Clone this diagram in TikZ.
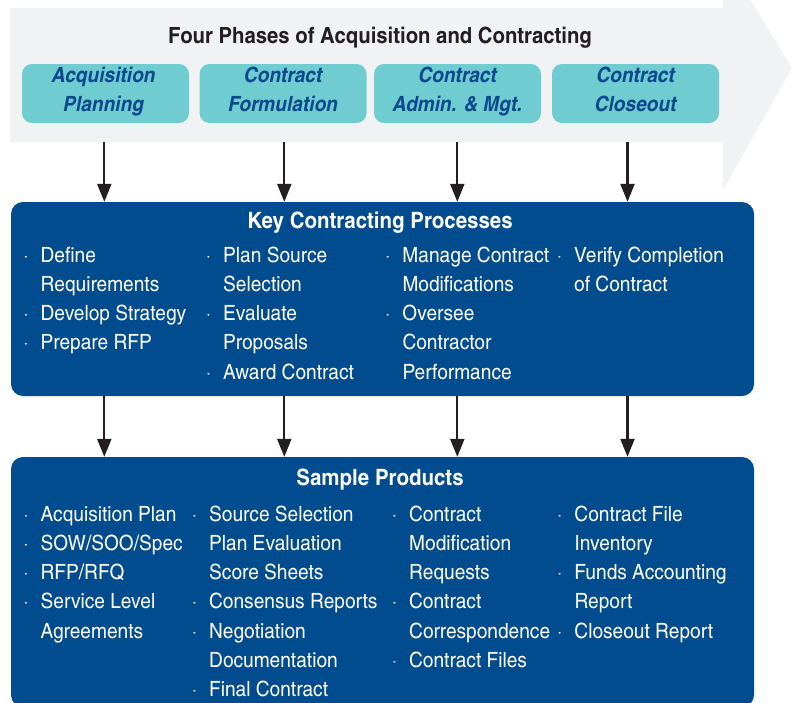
\documentclass[tikz,border=0pt]{standalone}
\usepackage{fontspec}
\setmainfont{texgyreheroscn}[Extension=.otf, UprightFont=*-regular, BoldFont=*-bold, ItalicFont=*-italic, BoldItalicFont=*-bolditalic, FakeStretch=1.11]
\usetikzlibrary{arrows.meta}

\definecolor{bandgray}{RGB}{241,242,244}
\definecolor{phaseteal}{RGB}{111,204,209}
\definecolor{phasetext}{RGB}{12,72,140}
\definecolor{procblue}{RGB}{1,76,142}
\definecolor{arrowink}{RGB}{35,31,32}

% bullet hung to the left of an item's first line
\newcommand\bl{\llap{·\hspace{12pt}}}

\tikzset{
  phasebox/.style={fill=phaseteal, rounded corners=10pt, minimum width=167pt, minimum height=59pt, inner sep=0pt},
  phaseline/.style={font=\fontsize{21}{25}\selectfont\bfseries\itshape, text=phasetext, inner sep=0pt, anchor=base},
  bluebox/.style={fill=procblue, rounded corners=12pt, inner sep=0pt},
  boxtitle/.style={font=\fontsize{22.5}{27}\selectfont\bfseries, text=white, inner sep=0pt, anchor=base},
  itemline/.style={font=\fontsize{21}{25}\selectfont, text=white, inner sep=0pt, anchor=base west},
  flow/.style={draw=arrowink, line width=2.3pt, -{Triangle[width=14pt,length=18pt]}},
}

% one column of list lines, baselines 29.3pt apart
\newcommand\collines[4]{%
  \foreach \t [count=\i] in {#4}
    \node[itemline] (#1-\i) at (#2,{#3+(\i-1)*29.3}) {\t};}

\begin{document}
\begin{tikzpicture}[x=1pt,y=-1pt]
\useasboundingbox (0,0) rectangle (791,702);
\clip (0,0) rectangle (791,702);

% the wide band arrow behind the four phases
\fill[bandgray] (10,8) -- (723,8) -- (723,-45) -- (792,68) -- (723,190) -- (723,142) -- (10,142) -- cycle;

\node[font=\fontsize{22.3}{27}\selectfont\bfseries, text=arrowink, inner sep=0pt, anchor=base] (bandtitle) at (380,43) {Four Phases of Acquisition and Contracting};

% phase boxes
\node[phasebox] (p1) at (105.5,93.5) {};
\node[phasebox] (p2) at (283,93.5) {};
\node[phasebox] (p3) at (457.5,93.5) {};
\node[phasebox] (p4) at (635.5,93.5) {};
\node[phaseline] (p1a) at (103.5,82.7) {Acquisition};
\node[phaseline] (p1b) at (103.5,111) {Planning};
\node[phaseline] (p2a) at (283,82.7) {Contract};
\node[phaseline] (p2b) at (283,111) {Formulation};
\node[phaseline] (p3a) at (457.5,82.7) {Contract};
\node[phaseline] (p3b) at (457.5,111) {Admin. \& Mgt.};
\node[phaseline] (p4a) at (635.5,82.7) {Contract};
\node[phaseline] (p4b) at (635.5,111) {Closeout};

% key processes box
\node[bluebox, minimum width=743pt, minimum height=194pt] (key) at (382.5,299) {};
\node[boxtitle] (keytitle) at (380,228) {Key Contracting Processes};
\collines{k1}{40.5}{262}{\bl Define, Requirements, \bl Develop Strategy, \bl Prepare RFP}
\collines{k2}{223}{262}{\bl Plan Source, Selection, \bl Evaluate, Proposals, \bl Award Contract}
\collines{k3}{402.3}{262}{\bl Manage Contract, Modifications, \bl Oversee, Contractor, Performance}
\collines{k4}{574}{262}{\bl Verify Completion, of Contract}

% sample products box
\node[bluebox, minimum width=743pt, minimum height=250pt] (prod) at (382.5,582) {};
\node[boxtitle] (prodtitle) at (380,485) {Sample Products};
\collines{s1}{40.5}{521}{\bl Acquisition Plan, \bl SOW/SOO/Spec, \bl RFP/RFQ, \bl Service Level, Agreements}
\collines{s2}{209}{521}{\bl Source Selection, Plan Evaluation, Score Sheets, \bl Consensus Reports, \bl Negotiation, Documentation, \bl Final Contract}
\collines{s3}{409}{521}{\bl Contract, Modification, Requests, \bl Contract, Correspondence, \bl Contract Files}
\collines{s4}{574.3}{521}{\bl Contract File, Inventory, \bl Funds Accounting, Report, \bl Closeout Report}

% phase -> processes -> products
\foreach \x/\p in {104.3/p1, 284.3/p2, 457.3/p3, 627.5/p4} {
  \coordinate (\p top) at (\x,142);
  \draw[flow] (\p top) -- (\p top |- key.north);
  \draw[flow] (\p top |- key.south) -- (\p top |- prod.north);
}
\end{tikzpicture}
\end{document}
